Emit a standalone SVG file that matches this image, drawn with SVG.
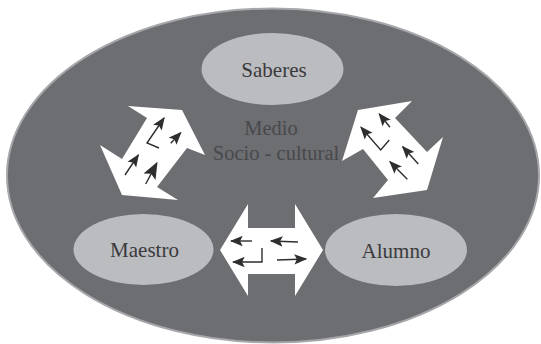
<svg xmlns="http://www.w3.org/2000/svg" width="541" height="344" viewBox="0 0 541 344">
<style>
.bg{fill:#6d6e72;stroke:#a6a7aa;stroke-width:2}
.node{fill:#bbbcbf}
.lbl{font-family:"Liberation Serif","Times New Roman","DejaVu Serif",serif;font-size:21px;fill:#3a3a3c;text-anchor:middle}
.mid{font-family:"Liberation Serif","Times New Roman","DejaVu Serif",serif;font-size:20.5px;fill:#48494c;text-anchor:middle}
.big{fill:#ffffff}
.ln{fill:none;stroke:#2e2e30;stroke-width:1.4}
</style>
<defs>
<marker id="ah" viewBox="0 0 10 8" refX="9" refY="4" markerWidth="13" markerHeight="11" markerUnits="userSpaceOnUse" orient="auto">
<path d="M0,0 L10,4 L0,8 L2,4 Z" fill="#2e2e30"/>
</marker>
<marker id="ahb" viewBox="0 0 10 8" refX="9" refY="4" markerWidth="17" markerHeight="14" markerUnits="userSpaceOnUse" orient="auto">
<path d="M0,0 L10,4 L0,8 L2,4 Z" fill="#2e2e30"/>
</marker>
</defs>
<ellipse class="bg" cx="273" cy="175.5" rx="266" ry="167"/>
<g id="saberes">
<ellipse class="node" cx="272.5" cy="69" rx="71" ry="36"/>
<text class="lbl" x="274" y="77">Saberes</text>
</g>
<g id="maestro">
<ellipse class="node" cx="143.5" cy="249.5" rx="70" ry="35.5"/>
<text class="lbl" x="144.5" y="257">Maestro</text>
</g>
<g id="alumno">
<ellipse class="node" cx="396" cy="250" rx="71" ry="36"/>
<text class="lbl" x="396" y="258">Alumno</text>
</g>
<g id="medio">
<text class="mid" x="271" y="135">Medio</text>
<text class="mid" x="276" y="160">Socio - cultural</text>
</g>
<g id="connectors">
<g id="arrow-maestro-saberes">
<polygon class="big" points="128,106 182,110 205,155 187,148 157,187 178,200 122,195 100,145 122,159 147,118"/>
<path class="ln" d="M159,148 L147,143 L164,118" marker-end="url(#ah)"/>
<path class="ln" d="M170.7,143.3 L180.7,132.7" marker-end="url(#ah)"/>
<path class="ln" d="M125,175 L138.3,155" marker-end="url(#ah)"/>
<path class="ln" d="M145.7,184 L156.7,163.3" marker-end="url(#ahb)"/>
</g>
<g id="arrow-saberes-alumno">
<polygon class="big" points="358,110 412,101 395,118 427,152 443,137 427,190 373,198 388,180 363,149 342,161"/>
<path class="ln" d="M390,127.3 L379.3,114" marker-end="url(#ah)"/>
<path class="ln" d="M389.3,140 L380.7,150 L361,127.3" marker-end="url(#ah)"/>
<path class="ln" d="M418.3,164 L402.7,146.7" marker-end="url(#ah)"/>
<path class="ln" d="M407.3,179.3 L390,161.7" marker-end="url(#ah)"/>
</g>
<g id="arrow-maestro-alumno">
<polygon class="big" points="220,250 248,204 248,228 295,228 295,204 323,250 295,296 295,274 248,274 248,296"/>
<path class="ln" d="M252,241 L231,241" marker-end="url(#ah)"/>
<path class="ln" d="M298,242 L271,241" marker-end="url(#ah)"/>
<path class="ln" d="M262,248 L262,262 L233,262" marker-end="url(#ah)"/>
<path class="ln" d="M277,260 L306,259" marker-end="url(#ah)"/>
</g>
</g>
</svg>
